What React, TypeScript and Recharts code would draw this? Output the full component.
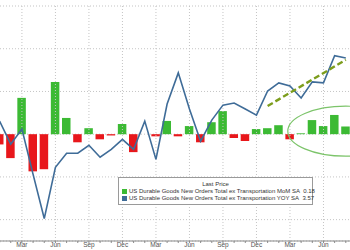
import {
  ComposedChart,
  Bar,
  Cell,
  Line,
  XAxis,
  YAxis,
  CartesianGrid,
  ReferenceLine,
  ReferenceDot,
  Legend,
} from "recharts";

// monthly categories, Jan 2015 .. Aug 2017
const MONTHS = [
  "Jan 15", "Feb 15", "Mar 15", "Apr 15", "May 15", "Jun 15", "Jul 15", "Aug 15", "Sep 15", "Oct 15", "Nov 15", "Dec 15",
  "Jan 16", "Feb 16", "Mar 16", "Apr 16", "May 16", "Jun 16", "Jul 16", "Aug 16", "Sep 16", "Oct 16", "Nov 16", "Dec 16",
  "Jan 17", "Feb 17", "Mar 17", "Apr 17", "May 17", "Jun 17", "Jul 17", "Aug 17",
];

// ex transportation MoM SA (%)
const MOM = [
  -0.24, -0.56, 0.85, -0.87, -0.82, 1.22, 0.38, -0.19, 0.14, -0.12, -0.03, 0.24,
  -0.42, 0.0, -0.05, 0.31, -0.05, 0.19, -0.19, 0.28, 0.54, -0.09, -0.16, 0.12,
  0.14, 0.21, -0.12, 0.02, 0.33, 0.19, 0.45, 0.18,
];

// ex transportation YOY SA (%)
const YOY = [
  0.61, -0.47, 0.24, -1.88, -3.95, -1.55, -0.89, -0.89, -0.52, -1.08, -0.71, -0.24,
  -0.71, 0.61, -1.18, 1.41, 2.87, 1.18, -0.33, 0.66, 1.36, 1.46, 1.18, 0.89,
  2.02, 2.4, 2.26, 1.69, 2.45, 2.4, 3.67, 3.57,
];

const QUARTER_TICKS = ["Mar", "Jun", "Sep", "Dec"];
const BAR_TICKS = [-2, -1, 0, 1, 2, 3];

// hand-drawn annotations on the original
const TREND_START = { x: "Jan 17", y: 1.32 };
const TREND_END = { x: "Aug 17", y: 3.48 };
const CIRCLE_AT = { x: "Aug 17", y: 0.07 };

const LAST_MOM = "0.18";
const LAST_YOY = "3.57";

const GREEN = "#3cba34";
const RED = "#e8171b";
const BLUE = "#3f6c98";
const FONT = "'Liberation Sans', Arial, sans-serif";

const data = MONTHS.map((m, i) => ({ month: m, mom: MOM[i], yoy: YOY[i] }));

function MonthTick(props: any) {
  const { x, y, payload } = props;
  const label = String(payload.value).slice(0, 3);
  if (!QUARTER_TICKS.includes(label)) return null;
  return (
    <text x={x} y={y} dy="0.35em" textAnchor="middle" fontSize={6.5} fill="#555" fontFamily={FONT}>
      {label}
    </text>
  );
}

function LastPriceBox() {
  const row = (color: string, name: string, value: string) => (
    <div style={{ display: "flex", alignItems: "center", height: 7 }}>
      <span style={{ width: 5, height: 5, background: color, marginRight: 2, flex: "none" }} />
      <span style={{ flex: 1, whiteSpace: "nowrap" }}>{name}</span>
      <span style={{ width: 15, textAlign: "right", flex: "none" }}>{value}</span>
    </div>
  );
  return (
    <div
      style={{
        background: "#fff",
        border: "1px solid #9a9a9a",
        padding: "3px 3px 2px 3px",
        fontFamily: FONT,
        fontSize: 6,
        lineHeight: "7px",
        color: "#333",
        width: 187,
      }}
    >
      <div style={{ textAlign: "center" }}>Last Price</div>
      {row(GREEN, "US Durable Goods New Orders Total ex Transportation MoM SA", LAST_MOM)}
      {row(BLUE, "US Durable Goods New Orders Total ex Transportation YOY SA", LAST_YOY)}
    </div>
  );
}

export default function App() {
  return (
    <div style={{ position: "absolute", left: 0, top: 0, width: 350, height: 250, overflow: "hidden", background: "#fff" }}>
      <div style={{ position: "absolute", left: -5.7, top: 0 }}>
        <ComposedChart
          width={357.4}
          height={262}
          data={data}
          margin={{ top: 6, right: 0, left: 0, bottom: 0 }}
          barSize={8.5}
        >
          <CartesianGrid
            yAxisId="bar"
            vertical={false}
            stroke="#c4c4c4"
            strokeDasharray="1 2"
          />
          {MONTHS.filter((m) => QUARTER_TICKS.includes(m.slice(0, 3))).map((m) => (
            <ReferenceLine key={m} x={m} yAxisId="bar" stroke="#c4c4c4" strokeDasharray="1 2" />
          ))}
          <XAxis
            dataKey="month"
            interval={0}
            height={21}
            tick={<MonthTick />}
            tickSize={2}
            tickMargin={1.5}
            axisLine={{ stroke: "#8a8a8a" }}
            tickLine={{ stroke: "#8a8a8a" }}
          />
          <YAxis yAxisId="bar" hide domain={[-2.5, 3]} ticks={BAR_TICKS} />
          <YAxis yAxisId="line" hide domain={[-5, 6]} />
          <Bar yAxisId="bar" dataKey="mom" isAnimationActive={false}>
            {data.map((d) => (
              <Cell key={d.month} fill={d.mom >= 0 ? GREEN : RED} />
            ))}
          </Bar>
          <Line
            yAxisId="line"
            type="linear"
            dataKey="yoy"
            stroke={BLUE}
            strokeWidth={1.6}
            dot={false}
            isAnimationActive={false}
          />
          <ReferenceLine
            yAxisId="line"
            segment={[TREND_START, TREND_END]}
            stroke="#7c9d1c"
            strokeWidth={2.4}
            strokeDasharray="6 3"
            ifOverflow="visible"
          />
          <ReferenceDot
            yAxisId="bar"
            x={CIRCLE_AT.x}
            y={CIRCLE_AT.y}
            ifOverflow="visible"
            shape={(p: any) => (
              <ellipse cx={p.cx} cy={p.cy} rx={58} ry={25} fill="none" stroke="#7cc46a" strokeWidth={1.2} />
            )}
          />
          <Legend
            layout="horizontal"
            verticalAlign="middle"
            content={<LastPriceBox />}
            wrapperStyle={{ left: 123.7, top: 177, width: 195, height: 27 }}
          />
        </ComposedChart>
      </div>
    </div>
  );
}
